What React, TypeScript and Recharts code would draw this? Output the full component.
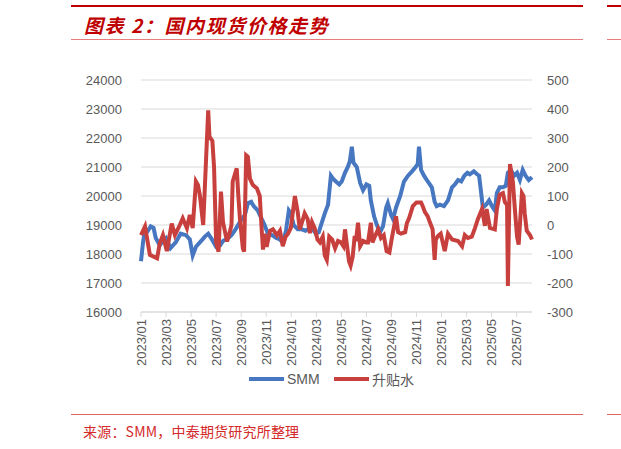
import { LineChart, Line, XAxis, YAxis, CartesianGrid } from 'recharts'

// SMM spot price (left axis, yuan/t)
const smmDates = [
  '2023-01-01','2023-01-06','2023-01-11','2023-01-18','2023-01-25','2023-02-01','2023-02-06','2023-02-15',
  '2023-02-22','2023-03-01','2023-03-12','2023-03-25','2023-04-06','2023-04-19','2023-04-28','2023-05-05',
  '2023-05-13','2023-05-26','2023-06-04','2023-06-12','2023-06-19','2023-07-01','2023-07-11','2023-07-18',
  '2023-07-31','2023-08-08','2023-08-18','2023-08-31','2023-09-10','2023-09-17','2023-09-25','2023-10-01',
  '2023-10-11','2023-10-21','2023-10-28','2023-11-05','2023-11-15','2023-11-25','2023-12-04','2023-12-11',
  '2023-12-19','2023-12-26','2023-12-31','2024-01-07','2024-01-17','2024-01-27','2024-02-05','2024-02-15',
  '2024-02-22','2024-02-29','2024-03-07','2024-03-15','2024-03-22','2024-03-30','2024-04-06','2024-04-11',
  '2024-04-18','2024-04-26','2024-05-02','2024-05-10','2024-05-17','2024-05-22','2024-05-27','2024-05-31',
  '2024-06-08','2024-06-16','2024-06-23','2024-07-01','2024-07-08','2024-07-12','2024-07-20','2024-07-27',
  '2024-08-04','2024-08-11','2024-08-19','2024-08-23','2024-08-31','2024-09-05','2024-09-12','2024-09-22',
  '2024-10-01','2024-10-11','2024-10-21','2024-10-30','2024-11-04','2024-11-07','2024-11-12','2024-11-19',
  '2024-11-28','2024-12-08','2024-12-15','2024-12-20','2024-12-28','2025-01-07','2025-01-17','2025-01-27',
  '2025-02-03','2025-02-10','2025-02-17','2025-02-24','2025-03-03','2025-03-09','2025-03-19','2025-03-27',
  '2025-04-01','2025-04-06','2025-04-10','2025-04-18','2025-04-25','2025-05-02','2025-05-09','2025-05-14',
  '2025-05-21','2025-05-29','2025-06-05','2025-06-10','2025-06-17','2025-06-25','2025-07-02','2025-07-09',
  '2025-07-16','2025-07-23','2025-07-31','2025-08-08',
]
const smmValues = [
  17750, 18400, 18850, 18800, 18950, 18900, 18550, 18300,
  18450, 18550, 18200, 18400, 18700, 18650, 18500, 17950,
  18250, 18450, 18600, 18700, 18550, 18250, 18300, 18450,
  18550, 18650, 18850, 19150, 19350, 19750, 19800, 19650,
  19500, 19200, 19000, 18700, 18650, 18550, 18500, 18400,
  18800, 19500, 19400, 19000, 18850, 18850, 18800, 18900,
  18850, 18700, 18750, 19100, 19400, 19700, 20700, 20600,
  20500, 20400, 20500, 20800, 21000, 21200, 21700, 21150,
  21000, 20450, 20200, 20400, 20350, 19850, 19300, 19000,
  18750, 18950, 19600, 19750, 19350, 19200, 19600, 20000,
  20500, 20700, 20850, 21000, 21100, 21700, 20900, 20700,
  20500, 20300, 19800, 19650, 19700, 19650, 19850, 20300,
  20400, 20550, 20500, 20700, 20800, 20750, 20850, 20750,
  20700, 20100, 19600, 19700, 19850, 19650, 19500, 20100,
  20300, 20300, 20350, 20800, 20900, 20700, 20800, 20550,
  20900, 20700, 20550, 20650,
]

// 升贴水 (right axis)
const basisDates = [
  '2023-01-01','2023-01-11','2023-01-23','2023-02-09','2023-02-15','2023-02-22','2023-03-03','2023-03-15',
  '2023-03-23','2023-04-04','2023-04-11','2023-04-21','2023-04-28','2023-05-05','2023-05-13','2023-05-18',
  '2023-05-23','2023-05-31','2023-06-12','2023-06-15','2023-06-22','2023-06-26','2023-07-01','2023-07-07',
  '2023-07-13','2023-07-18','2023-07-28','2023-08-04','2023-08-08','2023-08-11','2023-08-21','2023-08-25',
  '2023-08-29','2023-09-05','2023-09-08','2023-09-13','2023-09-17','2023-09-22','2023-09-29','2023-10-09',
  '2023-10-16','2023-10-21','2023-10-24','2023-10-28','2023-11-02','2023-11-10','2023-11-17','2023-11-27',
  '2023-12-04','2023-12-11','2023-12-18','2023-12-24','2023-12-31','2024-01-10','2024-01-17','2024-01-22',
  '2024-01-30','2024-02-03','2024-02-10','2024-02-15','2024-02-20','2024-02-26','2024-03-04','2024-03-10',
  '2024-03-17','2024-03-22','2024-03-27','2024-04-02','2024-04-09','2024-04-16','2024-04-23','2024-04-30',
  '2024-05-06','2024-05-10','2024-05-14','2024-05-20','2024-05-24','2024-05-29','2024-06-03','2024-06-06',
  '2024-06-11','2024-06-16','2024-06-23','2024-06-30','2024-07-05','2024-07-12','2024-07-16','2024-07-22',
  '2024-07-30','2024-08-06','2024-08-13','2024-08-20','2024-08-27','2024-09-02','2024-09-12','2024-09-17',
  '2024-09-24','2024-10-04','2024-10-08','2024-10-14','2024-10-23','2024-11-01','2024-11-12','2024-11-16',
  '2024-11-21','2024-11-28','2024-12-03','2024-12-10','2024-12-15','2024-12-18','2024-12-23','2024-12-30',
  '2025-01-09','2025-01-17','2025-01-27','2025-02-10','2025-02-19','2025-02-25','2025-03-04','2025-03-14',
  '2025-03-22','2025-03-29','2025-04-08','2025-04-15','2025-04-19','2025-04-27','2025-05-09','2025-05-14',
  '2025-05-21','2025-05-29','2025-06-03','2025-06-08','2025-06-10','2025-06-15','2025-06-22','2025-06-27',
  '2025-07-02','2025-07-06','2025-07-14','2025-07-18','2025-07-21','2025-07-26','2025-08-03','2025-08-08',
]
const basisValues = [
  -35, -5, -103, -115, -63, -35, -90, 5,
  -35, 0, 23, -11, 35, -11, 150, 138,
  100, 0, 395, 305, 290, 200, -60, -92,
  115, 10, -57, -23, 0, 150, 195, 100,
  20, -80, -92, 240, 235, 160, 138, 126,
  100, -20, -85, -30, -75, -20, -15, -35,
  -20, -73, -40, -30, -10, 100, 45, -15,
  20, 40, 20, -28, 10, -10, -50, -60,
  -40, -105, -120, -40, -50, -80, -55, -60,
  -73, -15, -60, -125, -140, -110, -38, -55,
  8, -73, -55, -60, -60, 8, -60, -40,
  -15, -45, -35, -90, -95, -45, 30, -25,
  -30, -25, 5, 25, 65, 78, 78, 65,
  45, 30, 10, -15, -120, -50, -38, -30,
  -90, -30, -50, -55, -73, -35, -45, -40,
  -10, 20, 55, -3, 55, -10, -15, 55,
  105, 110, 78, 70, -210, 210, 148, 50,
  -40, -68, 110, 100, 40, -20, -35, -50,
]

const leftTicks = [16000, 17000, 18000, 19000, 20000, 21000, 22000, 23000, 24000]
const rightTicks = [-300, -200, -100, 0, 100, 200, 300, 400, 500]
const monthTicks = [0, 2, 4, 6, 8, 10, 12, 14, 16, 18, 20, 22, 24, 26, 28, 30]

const BLUE = '#4677c0'
const RED = '#c8403d'
const LABEL = '#595959'

// date -> months since 2023-01-01 (fractional)
function toMonth(d: string) {
  const [y, m, day] = d.split('-').map(Number)
  const dim = new Date(Date.UTC(y, m, 0)).getUTCDate()
  return (y - 2023) * 12 + (m - 1) + (day - 1) / dim
}

function fmtMonth(t: number) {
  const y = 2023 + Math.floor(t / 12)
  const m = (t % 12) + 1
  return `${y}/${m < 10 ? '0' + m : m}`
}

const rows: { m: number; smm?: number; basis?: number }[] = [
  ...smmDates.map((d, i) => ({ m: toMonth(d), smm: smmValues[i] })),
  ...basisDates.map((d, i) => ({ m: toMonth(d), basis: basisValues[i] })),
].sort((a, b) => a.m - b.m)

function MonthTick(props: any) {
  const { x, y, payload } = props
  return (
    <text
      x={x}
      y={y}
      transform={`rotate(-90 ${x} ${y})`}
      textAnchor="end"
      dy="0.35em"
      fontSize={13}
      fill={LABEL}
      fontFamily="'Liberation Sans', Arial, sans-serif"
    >
      {fmtMonth(payload.value)}
    </text>
  )
}

const cjk = "'Noto Sans CJK SC', 'Noto Sans', sans-serif"

export default function App() {
  return (
    <div style={{ position: 'absolute', left: 0, top: 0, width: 621, height: 449, overflow: 'hidden', background: '#fff' }}>
      {/* header */}
      <div style={{ position: 'absolute', left: 71, top: 5, width: 512, height: 2, background: '#c00000' }} />
      <div style={{ position: 'absolute', left: 607, top: 5, width: 20, height: 2, background: '#c00000' }} />
      <div
        style={{
          position: 'absolute', left: 84, top: 14, height: 22, lineHeight: '22px',
          fontFamily: cjk, fontSize: 19, fontWeight: 700, fontStyle: 'italic',
          color: '#c00000', letterSpacing: 1.6, whiteSpace: 'nowrap',
        }}
      >
        图表 2：国内现货价格走势
      </div>
      <div style={{ position: 'absolute', left: 71, top: 39, width: 512, height: 1, background: '#e77c7c' }} />
      <div style={{ position: 'absolute', left: 607, top: 39, width: 20, height: 1, background: '#e77c7c' }} />

      <div style={{ position: 'absolute', left: 0, top: 0 }}>
        <LineChart width={621} height={449} data={rows} margin={{ top: 80, right: 39, bottom: 77, left: 81 }}>
          <CartesianGrid vertical={false} stroke="#d9d9d9" yAxisId="left" />
          <XAxis
            dataKey="m"
            type="number"
            domain={[0, 'dataMax']}
            ticks={monthTicks}
            height={60}
            interval={0}
            axisLine={{ stroke: '#d9d9d9' }}
            tickLine={{ stroke: '#d9d9d9' }}
            tickSize={5}
            tickMargin={2}
            tick={<MonthTick />}
          />
          <YAxis
            yAxisId="left"
            orientation="left"
            domain={[16000, 24000]}
            ticks={leftTicks}
            width={60}
            axisLine={false}
            tickLine={false}
            tickSize={0}
            tickMargin={19}
            tick={{ fontSize: 13, fill: LABEL, fontFamily: "'Liberation Sans', Arial, sans-serif" }}
          />
          <YAxis
            yAxisId="right"
            orientation="right"
            domain={[-300, 500]}
            ticks={rightTicks}
            width={50}
            axisLine={false}
            tickLine={false}
            tickSize={0}
            tickMargin={15}
            tick={{ fontSize: 13, fill: LABEL, fontFamily: "'Liberation Sans', Arial, sans-serif", textAnchor: 'start' }}
          />
          <Line
            yAxisId="left"
            dataKey="smm"
            type="linear"
            stroke={BLUE}
            strokeWidth={4}
            dot={false}
            connectNulls
            isAnimationActive={false}
          />
          <Line
            yAxisId="right"
            dataKey="basis"
            type="linear"
            stroke={RED}
            strokeWidth={4}
            dot={false}
            connectNulls
            isAnimationActive={false}
          />
        </LineChart>
      </div>

      {/* legend */}
      <div style={{ position: 'absolute', left: 249, top: 377, width: 35, height: 4, background: BLUE }} />
      <div
        style={{
          position: 'absolute', left: 287, top: 370, lineHeight: '18px', fontSize: 14,
          color: LABEL, fontFamily: "'Liberation Sans', Arial, sans-serif",
        }}
      >
        SMM
      </div>
      <div style={{ position: 'absolute', left: 334, top: 377, width: 35, height: 4, background: RED }} />
      <div
        style={{
          position: 'absolute', left: 372, top: 369, lineHeight: '20px', fontSize: 14,
          color: LABEL, fontFamily: cjk,
        }}
      >
        升贴水
      </div>

      {/* footer */}
      <div style={{ position: 'absolute', left: 71, top: 414, width: 512, height: 1, background: '#e06666' }} />
      <div style={{ position: 'absolute', left: 607, top: 414, width: 20, height: 1, background: '#e06666' }} />
      <div
        style={{
          position: 'absolute', left: 83, top: 422, lineHeight: '18px', fontSize: 14,
          color: '#d42a2a', fontFamily: cjk, letterSpacing: 0.2, whiteSpace: 'nowrap',
        }}
      >
        来源：SMM，中泰期货研究所整理
      </div>
    </div>
  )
}
